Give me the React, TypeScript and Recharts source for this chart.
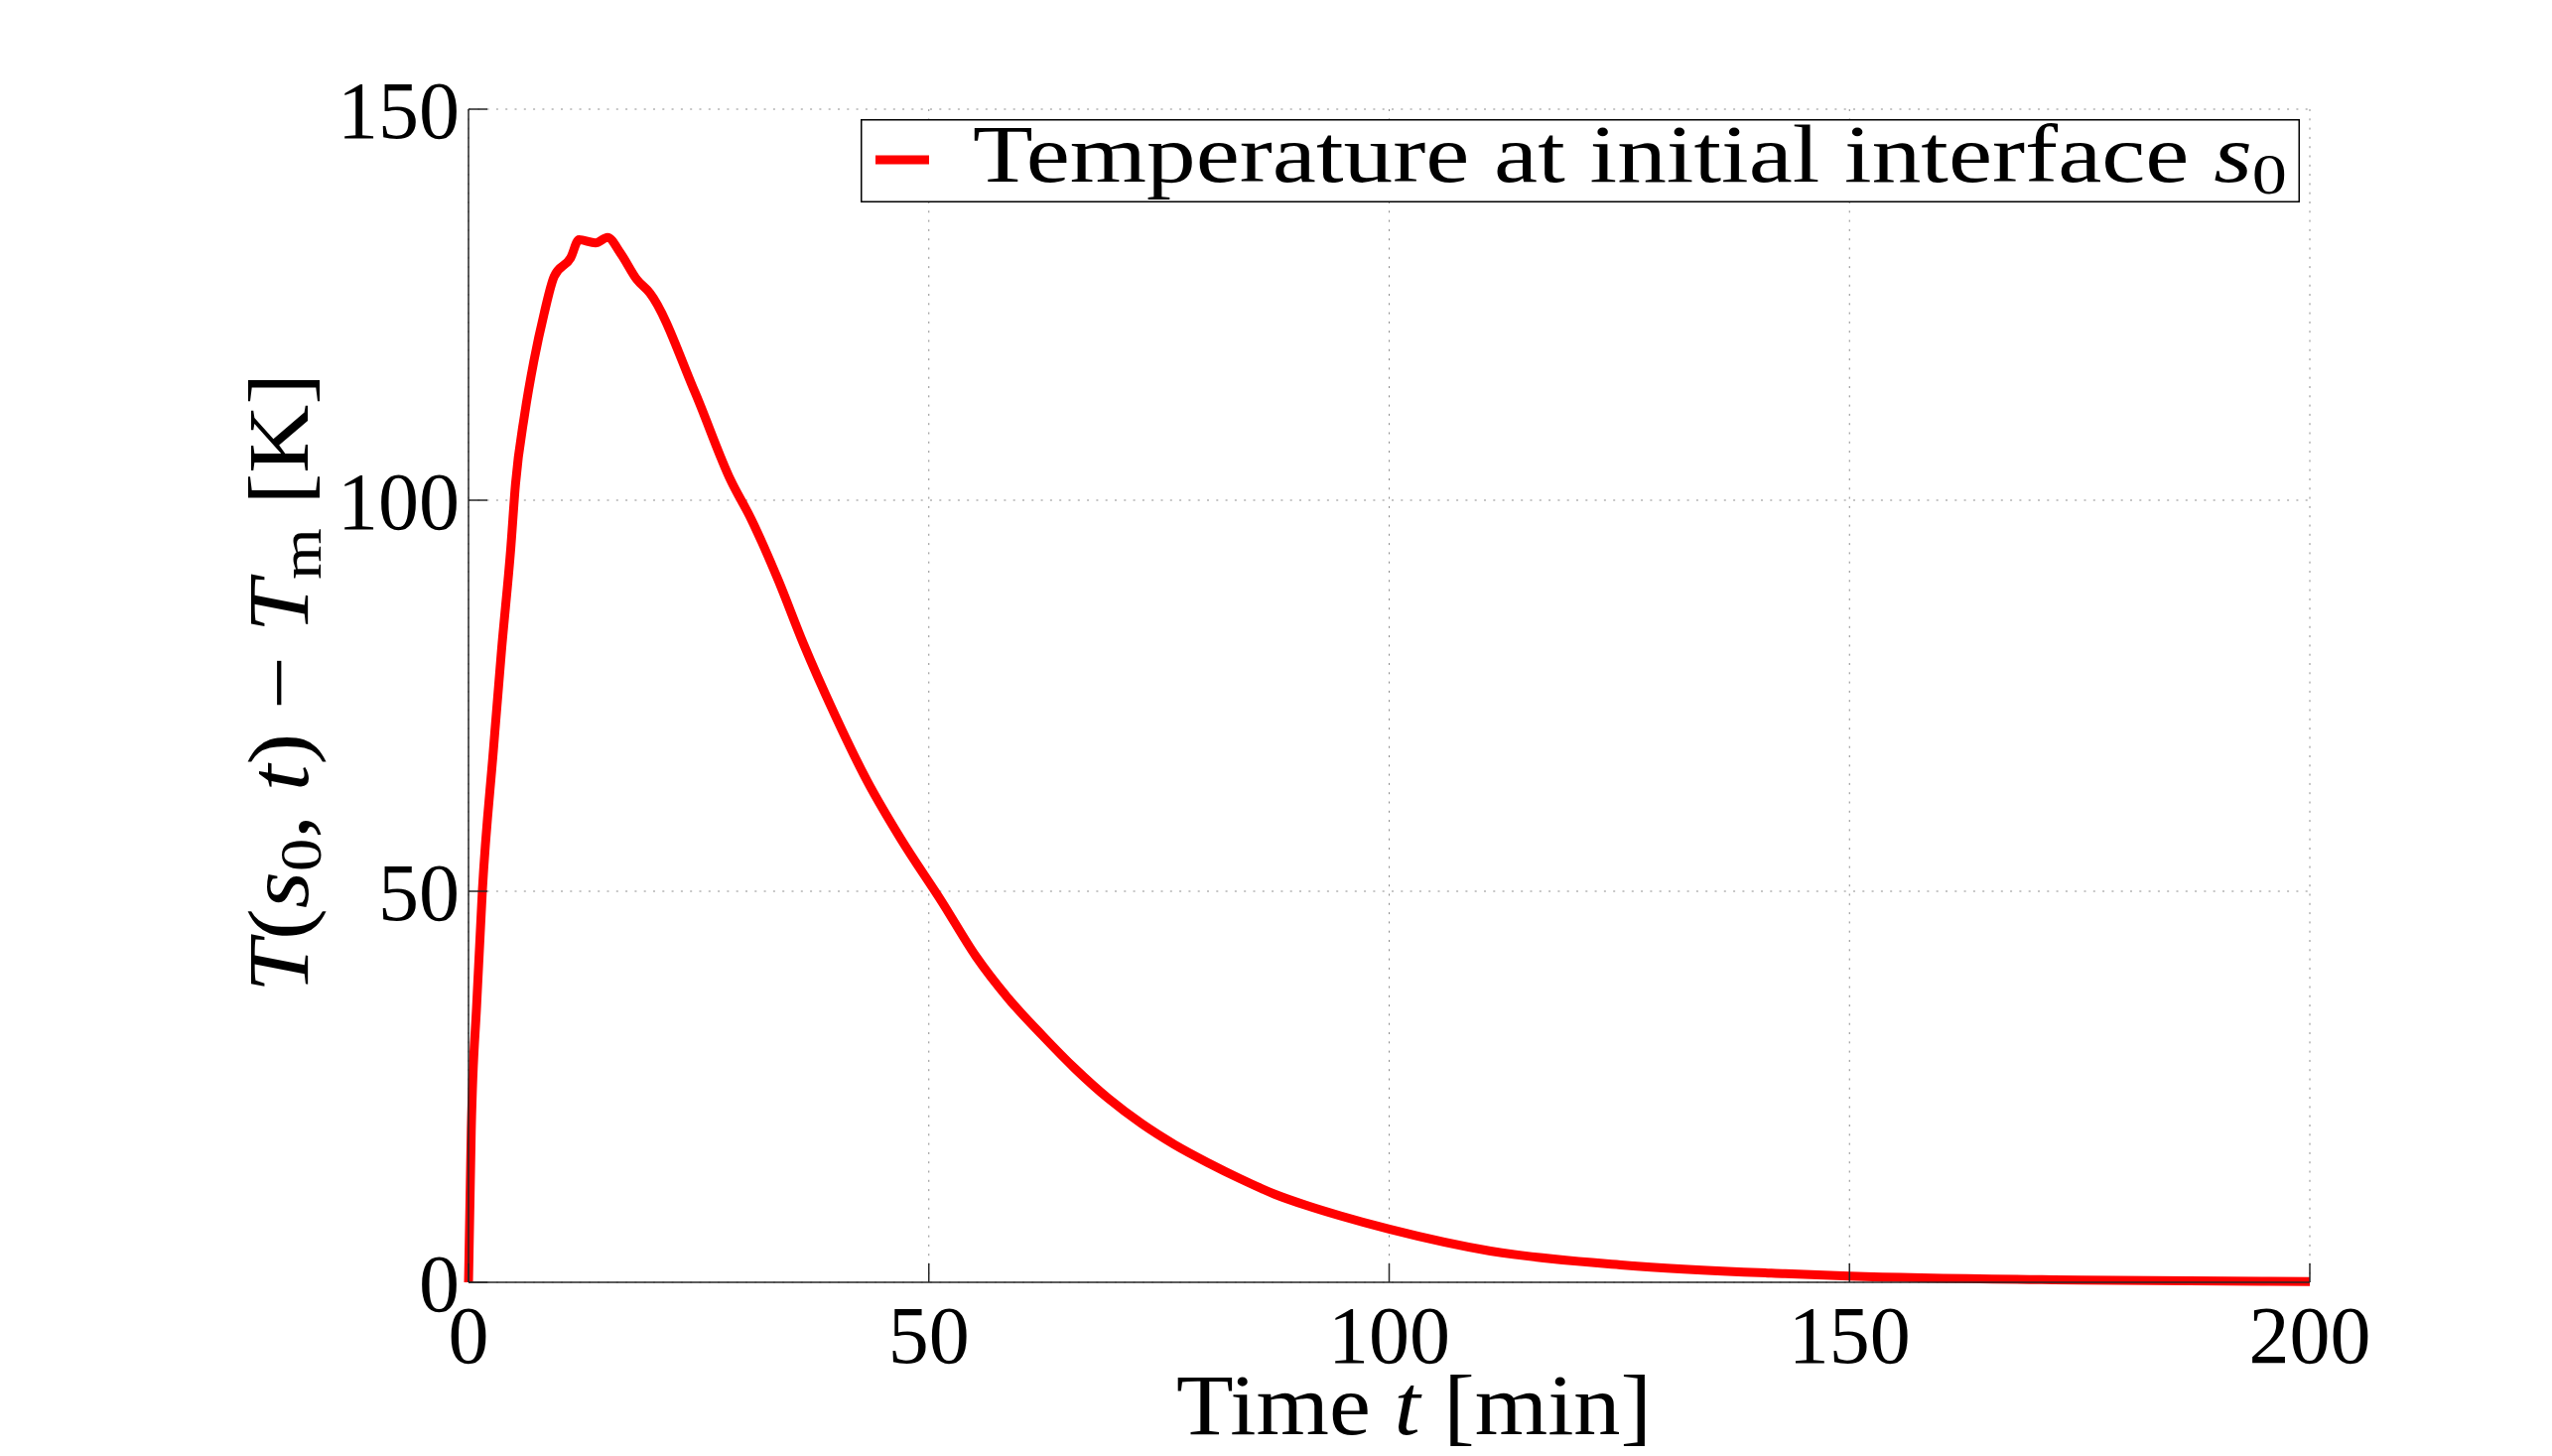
import {
  CartesianGrid,
  Label,
  Legend,
  Line,
  LineChart,
  XAxis,
  YAxis,
} from "recharts";

// time t [min] and T(s0,t) - Tm [K]
const timeMin = [
  0, 0.3, 0.9, 1.5, 2.7, 3.6, 4.6, 5.1, 6.1, 7.1, 8.2, 9.3, 11.1, 12.0, 13.8, 15.1, 16.5, 18.3,
  19.7, 24.6, 28.5, 30.7, 33.6, 36.4, 39.7, 43.3, 46.9, 51.5, 55.1, 58.7, 62.3, 65.9, 69.5, 73.1,
  76.7, 80.3, 83.9, 87.5, 91.1, 94.7, 100, 111, 125.5, 143, 150, 175, 200,
];
const tempDiff = [
  0, 19.5, 35.8, 50, 68, 81, 94, 102, 111, 117.8, 123.8, 128.6, 131, 133.3, 132.9, 133.6, 131.6,
  128.2, 126.5, 113.8, 102.5, 97.6, 89.9, 81.6, 72.8, 64.1, 56.8, 48.5, 41.7, 36.2, 31.6, 27.3,
  23.5, 20.3, 17.6, 15.3, 13.2, 11.3, 9.8, 8.5, 6.8, 4.0, 2.2, 1.1, 0.8, 0.3, 0.1,
];
const xTicks = [0, 50, 100, 150, 200];
const yTicks = [0, 50, 100, 150];
const seriesName = "Temperature at initial interface";

const rows = timeMin.map((t, i) => ({ t, temp: tempDiff[i] }));

const serif = '"Liberation Serif", "DejaVu Serif", serif';
const axisColor = "#262626";
const tickStyle = { fontSize: 82, fill: "#000", fontFamily: serif };

function renderYLabel(props: any) {
  const vb = props.viewBox;
  const cx = vb.x + vb.width - 162;
  const cy = vb.y + vb.height / 2 - 13;
  return (
    <text
      x={cx}
      y={cy}
      transform={`rotate(-90, ${cx}, ${cy})`}
      textAnchor="middle"
      fontFamily={serif}
      fontSize={86}
      fill="#000"
      textLength={624}
      lengthAdjust="spacingAndGlyphs"
    >
      <tspan fontStyle="italic">T</tspan>
      <tspan>(</tspan>
      <tspan fontStyle="italic">s</tspan>
      <tspan fontSize={60} dy={13}>0</tspan>
      <tspan dy={-13}>, </tspan>
      <tspan fontStyle="italic">t</tspan>
      <tspan>) − </tspan>
      <tspan fontStyle="italic">T</tspan>
      <tspan fontSize={60} dy={13}>m</tspan>
      <tspan dy={-13}> [K]</tspan>
    </text>
  );
}

function renderXLabel(props: any) {
  const vb = props.viewBox;
  return (
    <text
      x={vb.x + vb.width / 2 + 25}
      y={vb.y + 153}
      textAnchor="middle"
      fontFamily={serif}
      fontSize={86}
      fill="#000"
      textLength={479}
      lengthAdjust="spacingAndGlyphs"
    >
      <tspan>Time </tspan>
      <tspan fontStyle="italic">t</tspan>
      <tspan> [min]</tspan>
    </text>
  );
}

function LegendBox(props: any) {
  const item = props.payload?.[0];
  return (
    <svg width={1450} height={100} style={{ display: "block", overflow: "visible" }}>
      <rect x={0.75} y={0.75} width={1448.5} height={82.5} fill="#fff" stroke="#000" strokeWidth={1.5} />
      <line x1={15} x2={69} y1={41} y2={41} stroke={item?.color ?? "#ff0000"} strokeWidth={9} />
      <text
        x={113}
        y={63}
        fontFamily={serif}
        fontSize={82}
        fill="#000"
        textLength={1324}
        lengthAdjust="spacingAndGlyphs"
      >
        <tspan>{(item?.value ?? seriesName) + " "}</tspan>
        <tspan fontStyle="italic">s</tspan>
        <tspan fontSize={58} dy={12}>0</tspan>
      </text>
    </svg>
  );
}

export default function App() {
  return (
    <div style={{ position: "absolute", left: 0, top: 0, background: "#fff" }}>
      <LineChart
        width={2571}
        height={1467}
        data={rows}
        margin={{ top: 110, right: 244, bottom: 75, left: 222 }}
      >
        <CartesianGrid stroke="#8c8c8c" strokeDasharray="2 7.3" strokeWidth={1} />
        <XAxis
          dataKey="t"
          type="number"
          domain={[0, 200]}
          ticks={xTicks}
          interval={0}
          height={100}
          tick={tickStyle}
          tickSize={-19}
          tickMargin={42}
          axisLine={{ stroke: axisColor, strokeWidth: 1.5 }}
          tickLine={{ stroke: axisColor, strokeWidth: 1.5 }}
        >
          <Label content={renderXLabel} />
        </XAxis>
        <YAxis
          type="number"
          domain={[0, 150]}
          ticks={yTicks}
          interval={0}
          width={250}
          tick={tickStyle}
          tickSize={-19}
          tickMargin={28}
          axisLine={{ stroke: axisColor, strokeWidth: 1.5 }}
          tickLine={{ stroke: axisColor, strokeWidth: 1.5 }}
        >
          <Label content={renderYLabel} />
        </YAxis>
        <Legend
          layout="horizontal"
          align="center"
          verticalAlign="middle"
          content={LegendBox}
          wrapperStyle={{ position: "absolute", left: 867, top: 120, width: 1450, height: 100 }}
        />
        <Line
          type="monotone"
          dataKey="temp"
          name={seriesName}
          stroke="#ff0000"
          strokeWidth={9}
          dot={false}
          activeDot={false}
          isAnimationActive={false}
        />
      </LineChart>
    </div>
  );
}
